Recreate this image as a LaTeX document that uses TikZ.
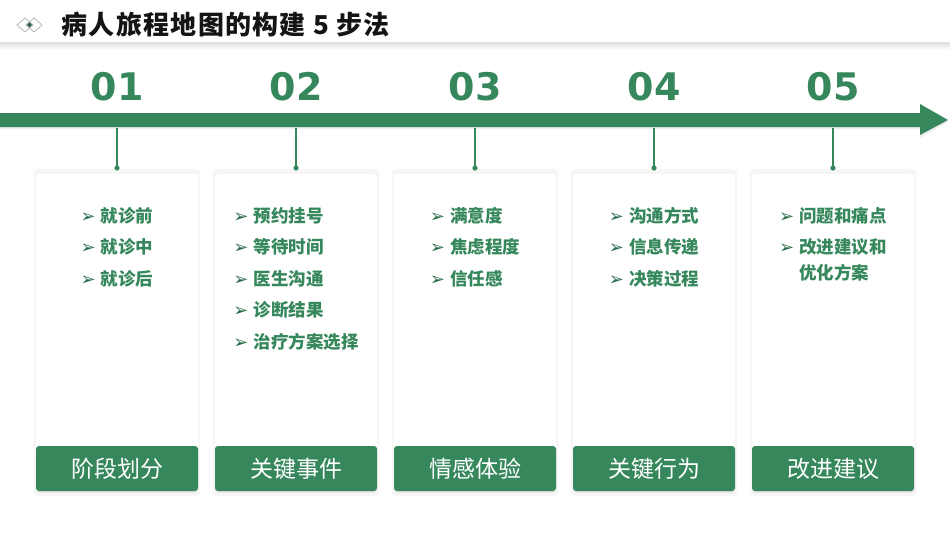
\documentclass[tikz,border=0pt]{standalone}
\usepackage{fontspec}
\setmainfont{DejaVu Sans}
\newfontfamily\cjk{Noto Sans CJK SC}
\newfontfamily\cjkwide{Noto Sans CJK SC}[LetterSpace=5]
\usepackage{tikz}
\usetikzlibrary{positioning,shadows}
\definecolor{jade}{RGB}{54,136,92}
\definecolor{ink}{RGB}{20,20,20}
\tikzset{
    title/.style={anchor=west,text=ink,font=\cjkwide\bfseries\fontsize{26}{26}\selectfont},
    num/.style={text=jade,font=\bfseries\fontsize{38}{38}\selectfont},
    stem/.style={jade,line width=1.3pt},
    card/.style={fill=white,rounded corners=3pt,minimum width=162pt,minimum height=317pt,inner sep=0pt,
        general shadow={fill=black,opacity=0.035,shadow scale=1.03},
        drop shadow={opacity=0.05,shadow xshift=0pt,shadow yshift=-1.5pt}},
    tag/.style={fill=jade,text=white,rounded corners=3pt,minimum width=162pt,minimum height=45pt,inner sep=0pt,
        font=\cjk\fontsize{23}{23}\selectfont,drop shadow={opacity=0.12,shadow xshift=0pt,shadow yshift=-1.5pt}},
    items/.style={text=jade,align=left,anchor=north,inner sep=0pt,font=\cjk\bfseries\fontsize{17.5}{26}\selectfont}
}
\newcommand{\bul}{{\rmfamily\mdseries\fontsize{18}{18}\selectfont\color{jade!80!black}➢}\hspace{5pt}}

\begin{document}
\begin{tikzpicture}[x=1pt,y=-1pt]
\useasboundingbox[fill=white](0,0) rectangle (950,535);
% header
\shade[top color=black!11,bottom color=white](0,43) rectangle (950,50);
\draw[gray!70,line width=0.6pt](25,18)--(33,25)--(25,32)--(17,25)--cycle;
\draw[gray!70,line width=0.6pt](34,18)--(42,25)--(34,32)--(26,25)--cycle;
\fill[jade!70!black](29.5,22.5)--(32,25)--(29.5,27.5)--(27,25)--cycle;
\node[title](head) at (58,25){病人旅程地图的构建 5 步法};
% timeline
\fill[black,opacity=0.07](0,115) -- (920,115) -- (920,105) -- (948,122) -- (920,138) -- (920,129) -- (0,129) -- cycle;
\fill[jade](0,113) -- (920,113) -- (920,104) -- (948,120) -- (920,135) -- (920,127) -- (0,127) -- cycle;
\node[num](n1) at (117,87){01};
\node[num](n2) at (296,87){02};
\node[num](n3) at (475,87){03};
\node[num](n4) at (654,87){04};
\node[num](n5) at (833,87){05};
% cards
\node[card](c1) at (117,332.5){};
\node[card](c2) at (296,332.5){};
\node[card](c3) at (475,332.5){};
\node[card](c4) at (654,332.5){};
\node[card](c5) at (833,332.5){};
\node[tag](t1) at (117,468.5){阶段划分};
\node[tag](t2) at (296,468.5){关键事件};
\node[tag](t3) at (475,468.5){情感体验};
\node[tag](t4) at (654,468.5){关键行为};
\node[tag](t5) at (833,468.5){改进建议};
% stems
\foreach \i/\x in {1/117,2/296,3/475,4/654,5/833}{
    \coordinate(s\i) at (\x,128);
    \coordinate(d\i) at (\x,168);
    \draw[stem](s\i)--(d\i);
    \fill[jade](d\i) circle (2.6);
}
% bullet lists
\node[items](l1) at (117,207){\bul 就诊前\\[5.5pt]\bul 就诊中\\[5.5pt]\bul 就诊后};
\node[items](l2) at (296,207){\bul 预约挂号\\[5.5pt]\bul 等待时间\\[5.5pt]\bul 医生沟通\\[5.5pt]\bul 诊断结果\\[5.5pt]\bul 治疗方案选择};
\node[items](l3) at (475,207){\bul 满意度\\[5.5pt]\bul 焦虑程度\\[5.5pt]\bul 信任感};
\node[items](l4) at (654,207){\bul 沟通方式\\[5.5pt]\bul 信息传递\\[5.5pt]\bul 决策过程};
\node[items](l5) at (833,207){\bul 问题和痛点\\[5.5pt]\bul 改进建议和\\\phantom{\bul}优化方案};
\end{tikzpicture}
\end{document}
